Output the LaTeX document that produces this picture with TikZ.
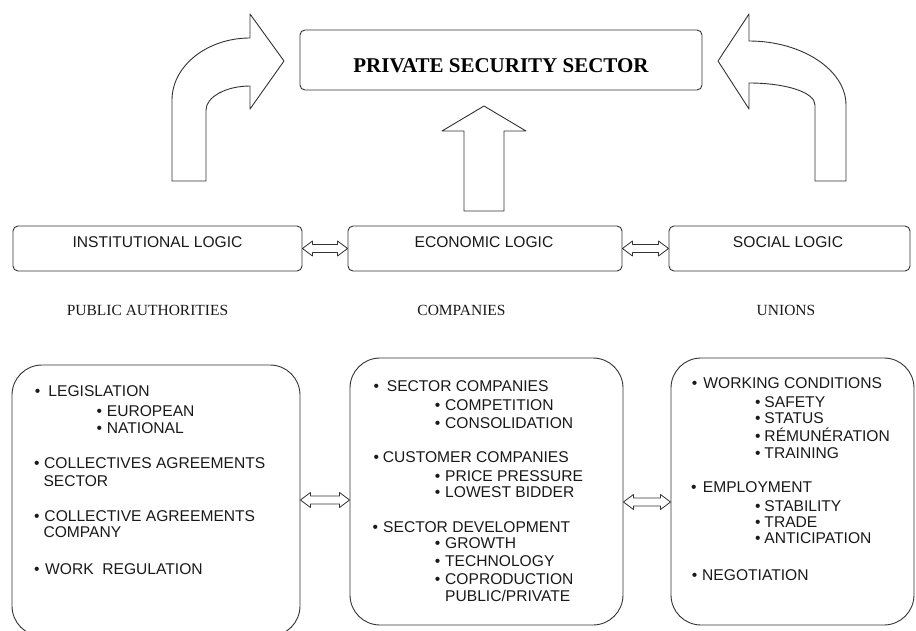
\documentclass[tikz,border=0pt]{standalone}
\usepackage{fontspec}
\setmainfont{Liberation Serif}
\setsansfont{Liberation Sans}
\usetikzlibrary{calc}
\newcommand\dblarr[2]{\draw[dblarrow] let \p1=#1, \p2=#2 in
  (\x1,\y1) -- (\x1+10pt,\y1+7.5pt) -- (\x1+10pt,\y1+4pt) -- (\x2-10pt,\y1+4pt) -- (\x2-10pt,\y1+7.5pt)
  -- (\x2,\y1) -- (\x2-10pt,\y1-7.5pt) -- (\x2-10pt,\y1-4pt) -- (\x1+10pt,\y1-4pt) -- (\x1+10pt,\y1-7.5pt) -- cycle;}
\newcommand\bitem[5]{\node[itm] (#1) at (#2,#3) {\llap{\textbullet\hspace{#4pt}}#5};}
\newcommand\pitem[4]{\node[itm] (#1) at (#2,#3) {#4};}
\begin{document}
\begin{tikzpicture}[x=1pt,y=-1pt, line join=round,
  ln/.style={draw=black!80, line width=0.9pt},
  smallbox/.style={ln, rounded corners=5pt, inner sep=0pt},
  bigbox/.style={ln, rounded corners=30pt, inner sep=0pt},
  bigarrow/.style={ln, fill=white},
  dblarrow/.style={ln, fill=white, line width=0.8pt},
  lbl/.style={font=\fontsize{15.6}{18}\selectfont\sffamily, text=black!90, inner sep=0pt, anchor=base},
  itm/.style={font=\fontsize{15.6}{18}\selectfont\sffamily, text=black!90, inner sep=0pt, anchor=base west},
  head/.style={font=\fontsize{15.5}{18}\selectfont\rmfamily, text=black!90, inner sep=0pt, anchor=base},
  titlefont/.style={font=\fontsize{21}{24}\selectfont\rmfamily\bfseries, inner sep=0pt, anchor=base}]
\useasboundingbox (0,0) rectangle (916,631);
\clip (0,0) rectangle (916,631);

% top box
\node[smallbox, minimum width=402pt, minimum height=60pt] (pss) at (501,60) {};
\node[titlefont] (psst) at (501,72.7) {PRIVATE SECURITY SECTOR};

% big arrows
\draw[bigarrow] (172,181) -- (172,100) .. controls (172,66) and (207,38) .. (250,38) -- (250,14) -- (284,61)
  -- (250,109) -- (250,86) .. controls (226,86) and (206,97) .. (206,110) -- (206,181) -- cycle;
\draw[bigarrow] (846,181) -- (846,105) .. controls (846,70) and (802,41) .. (749,41) -- (749,14) -- (718,61)
  -- (749,109) -- (749,83) .. controls (785,83) and (815,92) .. (815,105) -- (815,181) -- cycle;
\draw[bigarrow] (464,211) -- (464,131) -- (442,131) -- (484,106) -- (526,131) -- (504,131) -- (504,211) -- cycle;

% logic boxes
\node[smallbox, minimum width=289pt, minimum height=45pt] (inst) at (157.5,248.5) {};
\node[smallbox, minimum width=274pt, minimum height=45pt] (econ) at (485,248.5) {};
\node[smallbox, minimum width=241pt, minimum height=45pt] (soc) at (789.5,248.5) {};
\node[lbl] (instt) at (157.5,247.5) {INSTITUTIONAL LOGIC};
\node[lbl] (econt) at (484,247.5) {ECONOMIC LOGIC};
\node[lbl] (soct) at (788,247.5) {SOCIAL LOGIC};
\dblarr{(inst.east)}{(econ.west)}
\dblarr{(econ.east)}{(soc.west)}

% actors
\node[head] (pa) at (147.5,316) {PUBLIC AUTHORITIES};
\node[head] (co) at (461.5,316) {COMPANIES};
\node[head] (un) at (786,316) {UNIONS};

% bottom boxes
\node[bigbox, minimum width=288pt, minimum height=271pt] (lb) at (156,500.5) {};
\node[bigbox, minimum width=273pt, minimum height=267pt] (mb) at (486.5,491.5) {};
\node[bigbox, minimum width=243pt, minimum height=267pt] (rb) at (792.5,491.5) {};
\dblarr{($(lb.east)+(0,-0.5)$)}{($(mb.west)+(0,8.5)$)}
\dblarr{($(mb.east)+(0,10.5)$)}{($(rb.west)+(0,10.5)$)}

% left box items
\bitem{l1}{48.3}{396.7}{8.2}{LEGISLATION}
\bitem{l2}{106.7}{416.7}{4.9}{EUROPEAN}
\bitem{l3}{106.7}{433.3}{4.9}{NATIONAL}
\bitem{l4}{44}{468.3}{4.5}{COLLECTIVES AGREEMENTS}
\pitem{l5}{43.3}{486.7}{SECTOR}
\bitem{l6}{44.3}{521}{4.8}{COLLECTIVE AGREEMENTS}
\pitem{l7}{43.3}{537.3}{COMPANY}
\bitem{l8}{45}{574}{5.5}{WORK~~REGULATION}

% middle box items
\bitem{m1}{386.7}{391.7}{7.9}{SECTOR COMPANIES}
\bitem{m2}{445}{410.7}{4.9}{COMPETITION}
\bitem{m3}{445}{428.3}{4.9}{CONSOLIDATION}
\bitem{m4}{382.7}{462.3}{3.9}{CUSTOMER COMPANIES}
\bitem{m5}{445}{481}{4.9}{PRICE PRESSURE}
\bitem{m6}{445}{497.7}{4.9}{LOWEST BIDDER}
\bitem{m7}{383}{532.7}{5.2}{SECTOR DEVELOPMENT}
\bitem{m8}{445}{548.7}{4.9}{GROWTH}
\bitem{m9}{445}{566.7}{4.9}{TECHNOLOGY}
\bitem{m10}{445}{584.3}{4.9}{COPRODUCTION}
\pitem{m11}{445}{601.7}{PUBLIC/PRIVATE}

% right box items
\bitem{r1}{703.3}{388.3}{6.2}{WORKING CONDITIONS}
\bitem{r2}{764.3}{407.3}{3.8}{SAFETY}
\bitem{r3}{764.3}{423.3}{3.8}{STATUS}
\bitem{r4}{764.3}{441.7}{3.8}{RÉMUNÉRATION}
\bitem{r5}{764.3}{458.3}{3.8}{TRAINING}
\bitem{r6}{702.7}{492.7}{6.2}{EMPLOYMENT}
\bitem{r7}{764.3}{511.7}{3.8}{STABILITY}
\bitem{r8}{764.3}{527.7}{3.8}{TRADE}
\bitem{r9}{764.3}{543.3}{3.8}{ANTICIPATION}
\bitem{r10}{702}{580}{4.9}{NEGOTIATION}
\end{tikzpicture}
\end{document}
